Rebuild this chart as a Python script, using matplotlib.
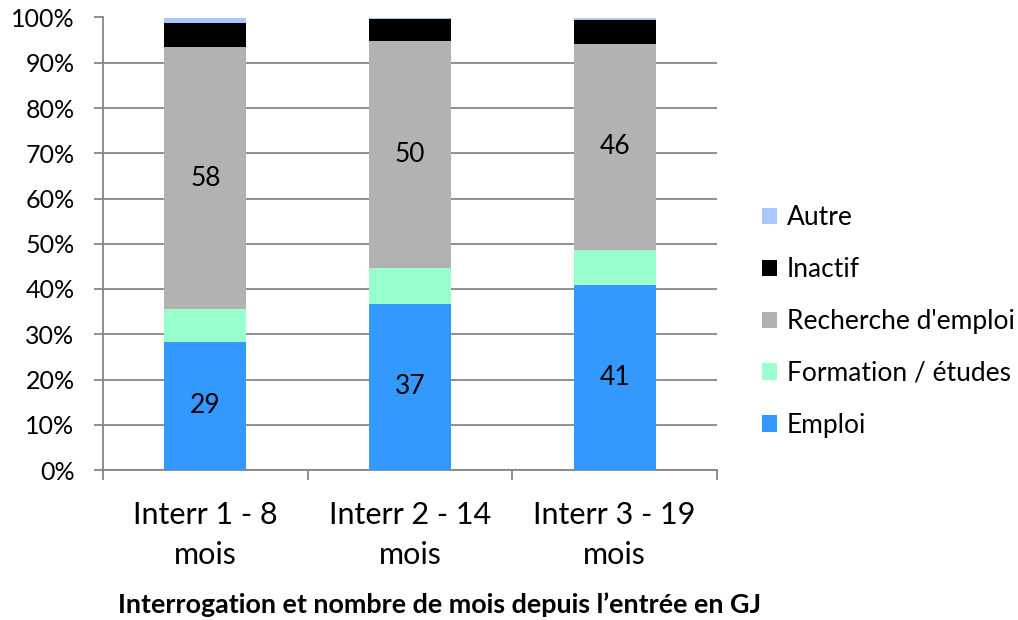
import matplotlib
matplotlib.use("Agg")
import matplotlib.pyplot as plt
import numpy as np

categories = ["Interr 1 - 8\nmois", "Interr 2 - 14\nmois", "Interr 3 - 19\nmois"]
series_names = ["Emploi", "Formation / études", "Recherche d'emploi", "Inactif", "Autre"]
emploi = [28.3, 36.7, 40.9]
formation = [7.2, 7.9, 7.7]
recherche = [57.9, 50.2, 45.6]
inactif = [5.4, 4.85, 5.3]
autre = [1.2, 0.35, 0.5]
emploi_labels = ["29", "37", "41"]
recherche_labels = ["58", "50", "46"]
colors = ["#3399FF", "#99FFCC", "#B2B2B2", "#000000", "#A9C8FF"]
yticks = [0, 10, 20, 30, 40, 50, 60, 70, 80, 90, 100]
x_title = "Interrogation et nombre de mois depuis l\u2019entrée en GJ"

plt.rcParams['font.family'] = ['Lato', 'DejaVu Sans']

fig = plt.figure(figsize=(10.18, 6.2), dpi=100)
ax = fig.add_axes([103/1018, 1-470/620, (717-103)/1018, (470-17.5)/620])

x = np.arange(len(categories))
data = [emploi, formation, recherche, inactif, autre]
bottom = np.zeros(len(categories))
containers = []
for name, vals, col in zip(series_names, data, colors):
    c = ax.bar(x, vals, width=0.4, bottom=bottom, color=col, label=name,
               zorder=3, edgecolor='none')
    containers.append(c)
    bottom += np.array(vals)

ax.bar_label(containers[0], labels=emploi_labels, label_type='center', fontsize=19, color='black')
ax.bar_label(containers[2], labels=recherche_labels, label_type='center', fontsize=19, color='black')

ax.set_xlim(-0.5, 2.5)
ax.set_ylim(0, 100)
ax.set_yticks(yticks)
ax.set_yticklabels([f"{t}%" for t in yticks], fontsize=18)
ax.yaxis.grid(True, color='#868686', linewidth=1.3, zorder=0)
ax.set_axisbelow(True)

ax.set_xticks(x)
ax.set_xticklabels(categories, fontsize=22, linespacing=1.55)
ax.set_xticks([-0.5, 0.5, 1.5, 2.5], minor=True)
ax.tick_params(axis='x', which='major', length=0, pad=22)
ax.tick_params(axis='x', which='minor', length=7, width=1.3, color='#868686', direction='out')
ax.tick_params(axis='y', length=6.5, width=1.3, color='#868686', direction='out', pad=14)

for s in ['top', 'right']:
    ax.spines[s].set_visible(False)
for s in ['left', 'bottom']:
    ax.spines[s].set_color('#868686')
    ax.spines[s].set_linewidth(1.3)

fig.text(440/1018, 1-605/620, x_title, ha='center', va='center', fontsize=19.4, fontweight='bold')

handles, labels = ax.get_legend_handles_labels()
leg = fig.legend(handles[::-1], labels[::-1], loc='center left',
                 bbox_to_anchor=(762/1018, 1-321.5/620), frameon=False,
                 fontsize=19, handlelength=0.57, handleheight=0.57,
                 handletextpad=0.38, labelspacing=1.02, borderaxespad=0, borderpad=0)

fig.savefig("out.png", dpi=100)
